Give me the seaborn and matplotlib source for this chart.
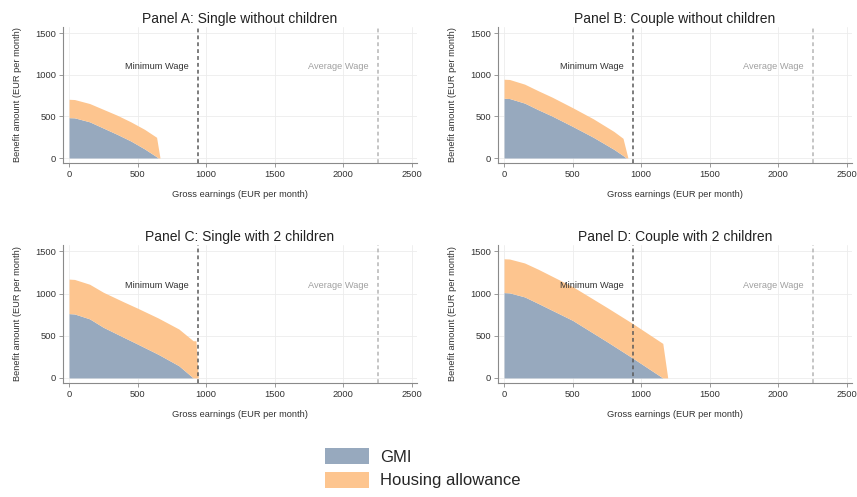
import numpy as np
import pandas as pd
import matplotlib
matplotlib.use("Agg")
import matplotlib.pyplot as plt
from matplotlib.patches import Patch
import seaborn as sns

# ---------------- data ----------------
titles = ["Panel A: Single without children", "Panel B: Couple without children",
          "Panel C: Single with 2 children", "Panel D: Couple with 2 children"]

earn_a = [0, 40, 150, 250, 350, 450, 550, 638, 650, 663]
gmi_a = [485, 483, 435, 360, 285, 205, 110, 15, 0, 0]
hous_a = [221, 220, 220, 225, 230, 230, 235, 234, 129, 0]

earn_b = [0, 40, 150, 250, 350, 500, 650, 800, 867, 891, 903]
gmi_b = [718, 715, 660, 580, 505, 380, 250, 105, 30, 0, 0]
hous_b = [229, 229, 228, 228, 227, 225, 222, 215, 207, 79, 0]

earn_c = [0, 40, 150, 250, 400, 500, 650, 800, 905, 925, 942]
gmi_c = [762, 758, 700, 600, 480, 401, 280, 145, 0, 0, 0]
hous_c = [409, 409, 410, 415, 420, 425, 430, 435, 440, 441, 0]

earn_d = [0, 40, 150, 250, 500, 750, 940, 1157, 1193]
gmi_d = [1011, 1008, 960, 882, 682, 430, 233, 0, 0]
hous_d = [401, 401, 402, 405, 400, 405, 409, 409, 0]

min_wage = 940
avg_wage = 2250
x_ticks = [0, 500, 1000, 1500, 2000, 2500]
y_ticks = [0, 500, 1000, 1500]
series_names = ["GMI", "Housing allowance"]

panels = [(earn_a, gmi_a, hous_a), (earn_b, gmi_b, hous_b),
          (earn_c, gmi_c, hous_c), (earn_d, gmi_d, hous_d)]

# ---------------- style ----------------
sns.set_style("white")
plt.rcParams["font.family"] = ["Liberation Sans", "DejaVu Sans"]
col_gmi, col_hous = "#97a9be", "#fdc58f"
palette = sns.color_palette([col_gmi, col_hous])
small = 6.7

W, H = 857, 497
fig = plt.figure(figsize=(W / 100, H / 100), dpi=100)

# axes rectangles in pixels: left, top, right, bottom
rects = [(63, 27, 417, 163), (498, 27, 852, 163),
         (63, 245, 417, 383), (498, 245, 852, 383)]

for (l, t, r, b), title, (earn, gmi, hous) in zip(rects, titles, panels):
    ax = fig.add_axes([l / W, 1 - b / H, (r - l) / W, (b - t) / H])
    df = pd.DataFrame({"earn": earn, "gmi": gmi, "hous": hous})
    df["top"] = df["gmi"] + df["hous"]
    ax.fill_between(df["earn"], 0, df["gmi"], color=palette[0], lw=0, zorder=2)
    ax.fill_between(df["earn"], df["gmi"], df["top"], color=palette[1], lw=0, zorder=2)

    ax.set_xlim(-44, 2536)
    ax.set_ylim(-60, 1575)
    ax.set_xticks(x_ticks)
    ax.set_yticks(y_ticks)
    ax.grid(True, color="#ececec", lw=0.6, zorder=0)
    for s in ["top", "right"]:
        ax.spines[s].set_visible(False)
    for s in ["left", "bottom"]:
        ax.spines[s].set_color("#8a8a8a")
        ax.spines[s].set_linewidth(0.8)
    ax.tick_params(axis="both", which="both", length=3, width=0.6, color="#8a8a8a",
                   labelsize=small, labelcolor="#333333", pad=2, direction="out",
                   bottom=True, left=True)

    ax.axvline(min_wage, color="#5a5a5a", ls=(0, (2.5, 2)), lw=1.1, zorder=3)
    ax.axvline(avg_wage, color="#b5b5b5", ls=(0, (2.5, 2)), lw=1.1, zorder=3)
    ax.text(min_wage - 65, 1100, "Minimum Wage", ha="right", va="center",
            fontsize=small, color="#333333", zorder=4)
    ax.text(avg_wage - 70, 1100, "Average Wage", ha="right", va="center",
            fontsize=small, color="#a0a0a0", zorder=4)

    ax.set_title(title, fontsize=10, color="#222222", pad=3)
    ax.set_xlabel("Gross earnings (EUR per month)", fontsize=small, color="#333333")
    ax.set_ylabel("Benefit amount (EUR per month)", fontsize=small, color="#333333")
    ax.xaxis.set_label_coords(0.5, -(27 / (b - t)))
    ax.yaxis.set_label_coords(-(41 / (r - l)), 0.5)

handles = [Patch(facecolor=col_gmi, edgecolor="none"),
           Patch(facecolor=col_hous, edgecolor="none")]
fig.legend(handles, series_names, loc="upper left",
           bbox_to_anchor=(322 / W, 1 - 445 / H), frameon=False, fontsize=12,
           handlelength=2.6, handleheight=1.1, handletextpad=0.7,
           labelspacing=0.4, borderpad=0.2, borderaxespad=0)

fig.savefig("out.png", dpi=100, facecolor="white")
